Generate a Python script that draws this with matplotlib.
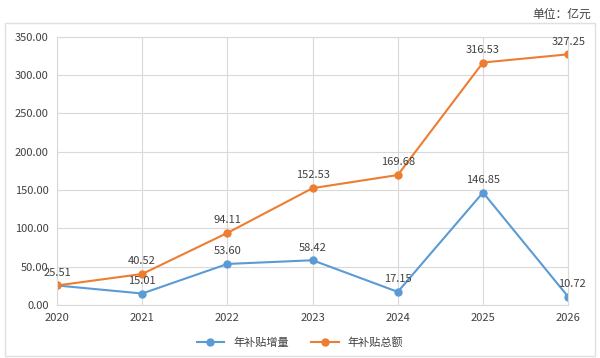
import matplotlib.pyplot as plt
from matplotlib.patches import Rectangle

plt.rcParams['font.family'] = ['Noto Sans CJK SC', 'DejaVu Sans']

years = ['2020', '2021', '2022', '2023', '2024', '2025', '2026']
increase = [25.51, 15.01, 53.60, 58.42, 17.15, 146.85, 10.72]
total = [25.51, 40.52, 94.11, 152.53, 169.68, 316.53, 327.25]
yticks = [0, 50, 100, 150, 200, 250, 300, 350]

blue = '#5B9BD5'
orange = '#ED7D31'

fig = plt.figure(figsize=(6, 3.58), dpi=100)
ax = fig.add_axes([0.095, 0.148, 0.852, 0.749])

x = range(len(years))
ax.plot(x, increase, color=blue, marker='o', markersize=5, linewidth=1.5, label='年补贴增量')
ax.plot(x, total, color=orange, marker='o', markersize=5, linewidth=1.5, label='年补贴总额')

# 数据标签
for i, v in enumerate(total):
    ax.annotate(f'{v:.2f}', (i, v), xytext=(0, 7), textcoords='offset points',
                ha='center', fontsize=8, color='#404040')
for i, v in enumerate(increase):
    if i == 0:
        continue
    dx = 3 if i == len(increase) - 1 else 0
    ax.annotate(f'{v:.2f}', (i, v), xytext=(dx, 7), textcoords='offset points',
                ha='center', fontsize=8, color='#404040')

ax.set_xlim(0, len(years) - 1)
ax.set_ylim(0, 350)
ax.set_xticks(list(x))
ax.set_xticklabels(years, fontsize=8, color='#404040')
ax.set_yticks(yticks)
ax.set_yticklabels([f'{t:.2f}' for t in yticks], fontsize=8, color='#404040')
ax.tick_params(length=0, pad=6)
ax.grid(True, color='#D9D9D9', linewidth=0.8)
ax.set_axisbelow(True)
for s in ax.spines.values():
    s.set_color('#D9D9D9')

fig.legend(loc='lower center', bbox_to_anchor=(0.5, 0.0), ncol=2, frameon=False,
           fontsize=8, labelcolor='#404040', handlelength=2.5)

fig.text(0.985, 0.96, '单位：亿元', ha='right', va='center', fontsize=8.5, color='#404040')
fig.patches.append(Rectangle((0.008, 0.005), 0.984, 0.93, transform=fig.transFigure,
                             fill=False, edgecolor='#E0E0E0', linewidth=1))

fig.savefig('out.png', dpi=100)
